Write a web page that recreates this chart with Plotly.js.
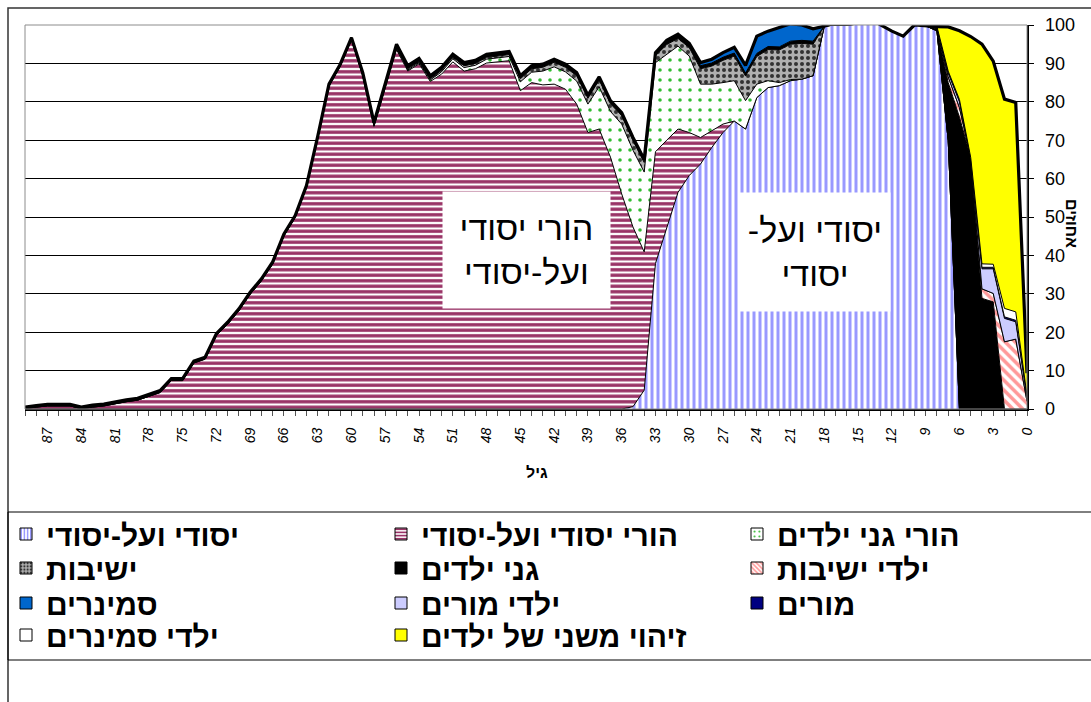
<!DOCTYPE html>
<html><head><meta charset="utf-8">
<script src="https://cdn.plot.ly/plotly-3.0.1.min.js"></script>
<style>html,body{margin:0;padding:0;background:#fff}#chart{width:1091px;height:702px}</style>
</head><body><div id="chart"></div>
<script>
// ages, 89 down to 0
const ages = [89,88,87,86,85,84,83,82,81,80,
  79,78,77,76,75,74,73,72,71,70,
  69,68,67,66,65,64,63,62,61,60,
  59,58,57,56,55,54,53,52,51,50,
  49,48,47,46,45,44,43,42,41,40,
  39,38,37,36,35,34,33,32,31,30,
  29,28,27,26,25,24,23,22,21,20,
  19,18,17,16,15,14,13,12,11,10,
  9,8,7,6,5,4,3,2,1,0];
const ageTickVals = [87,84,81,78,75,72,69,66,63,60,57,54,51,48,45,42,39,36,33,30,27,24,21,18,15,12,9,6,3,0];
const ageTickText = ['87','84','81','78','75','72','69','66','63','60','57','54','51','48','45','42','39','36','33','30','27','24','21','18','15','12','9','6','3','0'];
const pctTicks = [0,10,20,30,40,50,60,70,80,90,100];

const seriesNames = ['יסודי ועל-יסודי','הורי יסודי ועל-יסודי','הורי גני ילדים','ישיבות','גני ילדים','ילדי ישיבות','סמינרים','ילדי מורים','מורים','ילדי סמינרים','זיהוי משני של ילדים'];

const yesodi = [0,0,0,0,0,0,0,0,0,0,
  0,0,0,0,0,0,0,0,0,0,
  0,0,0,0,0,0,0,0,0,0,
  0,0,0,0,0,0,0,0,0,0,
  0,0,0,0,0,0,0,0,0,0,
  0,0,0,0,0.6,4.9,37.9,47,56.4,60.8,
  63.8,68.1,72,75,72.9,81.1,83.7,84.2,85.5,85.9,
  86.8,99.7,100,100,100.2,101,100,98.4,97.1,100,
  99.8,98.5,70,0,0,0,0,0,0,0];
const horeiYesodi = [0.1,0.5,0.8,0.8,0.8,0.1,0.5,0.8,1.3,1.9,
  2.3,3.3,4.3,7.4,7.4,12.0,13.0,19.1,22.1,25.6,
  29.9,33.4,37.8,45.1,49.9,57.7,70.5,84.1,89.3,96.2,
  86.8,73.6,83.6,93.6,88.0,89.9,85.3,87.2,90.4,88.0,
  88.6,90.1,90.4,90.7,82.9,85.0,84.4,84.6,83.3,79.4,
  72.0,72.9,65.6,56.0,46.8,36.0,29.1,23.0,16.5,11.2,
  6.9,4.3,2.2,0,0,0,0,0,0,0,
  0,0,0,0,0,0,0,0,0,0,
  0,0,0,0,0,0,0,0,0,0];
const horeiGanim = [0,0,0,0,0,0,0,0,0,0,
  0,0,0,0,0,0,0,0,0,0,
  0,0,0,0,0,0,0,0,0,0,
  0,0.1,0.2,0.3,0.3,0.3,0.4,0.6,0.8,0.9,
  0.9,1,1,1.1,2.3,2.7,3.6,4.5,4.5,6,
  7.4,11,11.9,18.2,20,20.8,23.2,22.4,21.6,19.9,
  13.9,12.2,10.8,10.5,7.4,3.5,1.8,0.8,0.3,0,
  0,0,0,0,0,0,0,0,0,0,
  0,0,0,0,0,0,0,0,0,0];
const yeshivot = [0,0,0,0,0,0,0,0,0,0,
  0,0,0,0,0,0,0,0,0,0,
  0,0,0,0,0,0,0,0,0,0,
  0,0.1,0.2,0.3,0.3,0.3,0.3,0.4,0.4,0.5,
  0.5,0.5,0.5,0.5,0.8,0.9,1,1.2,1.2,1.4,
  1.5,1.8,2,2.2,2.5,2.5,1.8,2.5,2.0,2.2,
  4.0,4.7,5.8,6.4,6.4,7.2,8.1,8.5,9.2,9.3,
  8.2,0,0,0,0,0,0,0,0,0,
  0,0,0,0,0,0,0,0,0,0];
const ganim = [0.4,0.4,0.4,0.4,0.4,0.4,0.5,0.5,0.5,0.5,
  0.5,0.5,0.5,0.5,0.5,0.5,0.5,0.5,0.5,0.5,
  0.5,0.5,0.5,0.5,0.5,0.5,0.5,0.5,0.5,0.5,
  0.8,0.8,0.8,0.8,0.8,0.8,0.8,0.8,0.8,0.8,
  0.8,0.8,0.8,0.8,0.8,0.8,0.8,0.8,0.8,0.8,
  0.8,0.8,0.8,0.8,0.8,0.8,0.8,0.8,0.8,0.8,
  0.8,0.8,0.8,0.8,0.8,0.8,0.8,0.8,0.8,0.8,
  0.8,0,0,0,0,0,0,0,0,0,
  0,0.5,15,76,65.5,28.8,27.9,0,0,0];
const yaldeiYeshivot = [0,0,0,0,0,0,0,0,0,0,
  0,0,0,0,0,0,0,0,0,0,
  0,0,0,0,0,0,0,0,0,0,
  0,0,0,0,0,0,0,0,0,0,
  0,0,0,0,0,0,0,0,0,0,
  0,0,0,0,0,0,0,0,0,0,
  0,0,0,0,0,0,0,0,0,0,
  0,0,0.8,0.5,1,1,0,0,0,0,
  0,0.3,1.5,2.5,0,2.5,2.2,17.5,18.2,2];
const seminarim = [0,0,0,0,0,0,0,0,0,0,
  0,0,0,0,0,0,0,0,0,0,
  0,0,0,0,0,0,0,0,0,0,
  0,0,0,0,0,0,0,0,0,0,
  0,0,0,0,0,0,0,0,0,0,
  0,0,0,0,0,0,0,0.3,0.3,0.3,
  0.8,1.0,1.2,1.5,2,4.5,4,5,4.5,4,
  3.2,0,0,0,0,0,0,0,0,0,
  0,0,0,0,0,0,0,0,0,0];
const yaldeiMorim = [0,0,0,0,0,0,0,0,0,0,
  0,0,0,0,0,0,0,0,0,0,
  0,0,0,0,0,0,0,0,0,0,
  0,0,0,0,0,0,0,0,0,0,
  0,0,0,0,0,0,0,0,0,0,
  0,0,0,0,0,0,0,0,0,0,
  0,0,0,0,0,0,0,0,0,0,
  0,0,0,0,0,0,0,0,0,0,
  0,0.2,1,1.5,0,5.2,6.4,6.1,4.5,1];
const morim = [0,0,0,0,0,0,0,0,0,0,
  0,0,0,0,0,0,0,0,0,0,
  0,0,0,0,0,0,0,0,0,0,
  0,0,0,0,0,0,0,0,0,0,
  0,0,0,0,0,0,0,0,0,0,
  0,0,0,0,0,0,0,0,0,0,
  0,0,0,0,0,0,0,0,0,0,
  0,0,0,0,0,0,0,0,0,0,
  0,0,0.2,0.3,0,0.4,0.4,0.4,0.4,0.2];
const yaldeiSeminarim = [0,0,0,0,0,0,0,0,0,0,
  0,0,0,0,0,0,0,0,0,0,
  0,0,0,0,0,0,0,0,0,0,
  0,0,0,0,0,0,0,0,0,0,
  0,0,0,0,0,0,0,0,0,0,
  0,0,0,0,0,0,0,0,0,0,
  0,0,0,0,0,0,0,0,0,0,
  0,0,0,0,0,0,0,0,0,0,
  0,0.1,0.3,0.3,0,0.9,0.8,2.2,2.2,0.3];
const zihuiMishni = [0,0,0,0,0,0,0,0,0,0,
  0,0,0,0,0,0,0,0,0,0,
  0,0,0,0,0,0,0,0,0,0,
  0,0,0,0,0,0,0,0,0,0,
  0,0,0,0,0,0,0,0,0,0,
  0,0,0,0,0,0,0,0,0,0,
  0,0,0,0,0,0,0,0,0,0,
  0,0,0,0,0,0,0,0,0,0,
  0,0,11.5,17.9,31.5,57.2,52.9,54.5,54.5,5.8];

const seriesValues = [yesodi,horeiYesodi,horeiGanim,yeshivot,ganim,yaldeiYeshivot,seminarim,yaldeiMorim,morim,yaldeiSeminarim,zihuiMishni];

const fills = [
  {color:'#FFFFFF', pattern:{shape:'|', fgcolor:'#9999FF', bgcolor:'#FFFFFF', size:6, solidity:0.5}},
  {color:'#FFFFFF', pattern:{shape:'-', fgcolor:'#993366', bgcolor:'#FFFFFF', size:5.5, solidity:0.6}},
  {color:'#FFFFFF', pattern:{shape:'.', fgcolor:'#33BB33', bgcolor:'#FFFFFF', size:10, solidity:0.1}},
  {color:'#B0B0B0', pattern:{shape:'.', fgcolor:'#333333', bgcolor:'#B0B0B0', size:6, solidity:0.35}},
  {color:'#000000'},
  {color:'#FFFFFF', pattern:{shape:'\\', fgcolor:'#FF9999', bgcolor:'#FFFFFF', size:7, solidity:0.5}},
  {color:'#0066CC'},
  {color:'#CCCCFF'},
  {color:'#000080'},
  {color:'#FFFFFF'},
  {color:'#FFFF00'}
];
const legendPatterns = [
  {shape:'|', fgcolor:'#9999FF', bgcolor:'#FFFFFF', size:4, solidity:0.5},
  {shape:'-', fgcolor:'#993366', bgcolor:'#FFFFFF', size:4, solidity:0.55},
  {shape:'.', fgcolor:'#33BB33', bgcolor:'#FFFFFF', size:6, solidity:0.15},
  {shape:'.', fgcolor:'#333333', bgcolor:'#B0B0B0', size:4, solidity:0.4},
  null,
  {shape:'\\', fgcolor:'#FF9999', bgcolor:'#FFFFFF', size:4, solidity:0.5},
  null, null, null, null, null
];
// legend grid: column and row of each series' key
const legendCol = [0,1,2,0,1,2,0,1,2,0,1];
const legendRowIdx = [0,0,0,1,1,1,2,2,2,3,3];

const FONT = 'Liberation Sans, Arial, sans-serif';

const traces = seriesValues.map((vals, i) => {
  const t = {
    type:'scatter', mode:'lines', x: ages, y: vals, name: seriesNames[i],
    stackgroup:'one', showlegend:false,
    line:{color:'#000000', width: i === seriesValues.length-1 ? 3.2 : 1},
    fillcolor: fills[i].color, hoverinfo:'skip'
  };
  if (fills[i].pattern) t.fillpattern = fills[i].pattern;
  return t;
});
const legendId = i => i === 0 ? 'legend' : 'legend' + (i + 1);
// legend keys (empty traces, only for the legend swatches)
seriesNames.forEach((nm, i) => {
  const mk = {color: fills[i].color, line:{color:'#000000', width:1}};
  if (legendPatterns[i]) mk.pattern = legendPatterns[i];
  traces.push({type:'bar', x:[null], y:[null], name:nm, marker:mk, legend:legendId(i), showlegend:true, hoverinfo:'skip'});
});

// helpers: pixel -> paper
const L = 25, R = 1027, T = 25, B = 409, W = 1091, H = 702;
const px = v => (v - L) / (R - L);
const py = v => (B - v) / (B - T);

const legendFont = {family:FONT, size:30, color:'#000000', weight:'bold'};
const colX = [6, 381, 737];
const rowTop = [508, 542, 577, 609];

const layout = {
  width:W, height:H,
  margin:{l:L, r:W-R, t:T, b:H-B, pad:0},
  paper_bgcolor:'#FFFFFF', plot_bgcolor:'#FFFFFF',
  font:{family:FONT, color:'#000000'},
  showlegend:true,
  xaxis:{
    range:[89,0], showgrid:false, zeroline:false,
    showline:true, linecolor:'#000000', linewidth:2,
    tickmode:'array', tickvals:ageTickVals, ticktext:ageTickText,
    ticks:'outside', ticklen:5, tickcolor:'#555555', tickwidth:1,
    tickangle:-90, ticklabelstandoff:6,
    tickfont:{family:FONT, size:14, color:'#000000', style:'italic'},
    minor:{tickmode:'linear', tick0:0, dtick:1, ticks:'outside', ticklen:5, tickcolor:'#555555', showgrid:false}
  },
  yaxis:{
    range:[0,100], side:'right', tickmode:'array', tickvals:pctTicks,
    showgrid:true, gridcolor:'#000000', gridwidth:1, zeroline:false,
    showline:true, linecolor:'#000000', linewidth:1.5,
    ticks:'outside', ticklen:5, tickcolor:'#000000',
    ticklabelstandoff:8,
    tickfont:{family:FONT, size:18, color:'#000000'}
  },
  shapes:[
    {type:'rect', xref:'paper', yref:'paper', x0:0, x1:1, y0:0, y1:1, line:{color:'#8C8C8C', width:1}, layer:'above'},
    {type:'rect', xref:'paper', yref:'paper', x0:px(8), x1:px(1100), y0:py(720), y1:py(8), line:{color:'#333333', width:1.5}},
    {type:'rect', xref:'paper', yref:'paper', x0:px(8), x1:px(1100), y0:py(660), y1:py(512), line:{color:'#000000', width:1}}
  ],
  annotations:[
    {xref:'paper', yref:'paper', x:px(526.5), y:py(250), xanchor:'center', yanchor:'middle',
     text:'הורי יסודי<br>ועל-יסודי', showarrow:false, bgcolor:'#FFFFFF', width:167, height:116, borderpad:0,
     font:{family:FONT, size:34, color:'#000000'}},
    {xref:'paper', yref:'paper', x:px(815), y:py(252), xanchor:'center', yanchor:'middle',
     text:'יסודי ועל-\u200F<br>יסודי', showarrow:false, bgcolor:'#FFFFFF', width:150, height:118, borderpad:0,
     font:{family:FONT, size:34, color:'#000000'}},
    {xref:'paper', yref:'paper', x:px(1072), y:py(223), xanchor:'center', yanchor:'middle',
     text:'אחוזים', textangle:90, showarrow:false,
     font:{family:FONT, size:16, color:'#000000', weight:'bold'}},
    {xref:'paper', yref:'paper', x:px(537), y:py(472), xanchor:'center', yanchor:'middle',
     text:'גיל', showarrow:false,
     font:{family:FONT, size:16, color:'#000000', weight:'bold'}}
  ]
};
seriesNames.forEach((nm, i) => {
  layout[legendId(i)] = {
    orientation:'h', xref:'container', yref:'container',
    x: colX[legendCol[i]] / W, y: 1 - rowTop[legendRowIdx[i]] / H,
    xanchor:'left', yanchor:'top', font: legendFont,
    bgcolor:'rgba(0,0,0,0)', borderwidth:0
  };
});

Plotly.newPlot('chart', traces, layout, {displayModeBar:false, staticPlot:true});
</script>
</body></html>
